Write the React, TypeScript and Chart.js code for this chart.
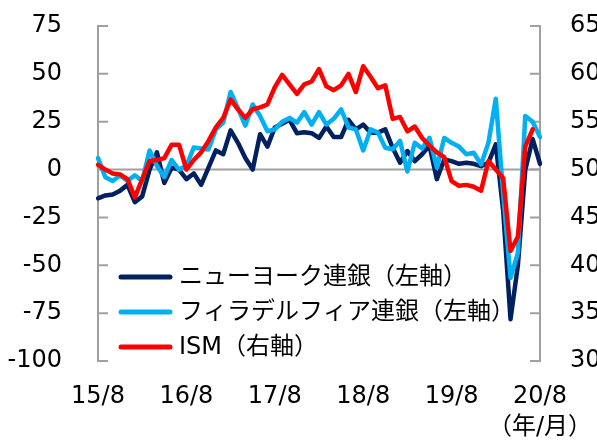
import React, { useEffect, useRef } from "react";
import { Chart, registerables } from "chart.js";

Chart.register(...registerables);

// Monthly, 2015/8 .. 2020/8 (61 months)
const startYear = 2015;
const startMonth = 8;
const monthCount = 61;
const xTickLabels = ["15/8", "16/8", "17/8", "18/8", "19/8", "20/8"];
const xUnitLabel = "（年/月）";

const nyFed = [
  -15, -13.5, -13, -11, -8, -17, -14, 0, 9, -7,
  1, 0, -5, -2, -8, 1, 10, 8, 20.5, 14,
  6, 0, 18.5, 12, 22, 24, 26, 19, 19.5, 19,
  16.5, 22.5, 17, 17, 26, 21, 23.5, 19.3, 19.3, 21,
  11.4, 3.6, 9.7, 4.4, 8, 12.5, -5, 5.3, 4.4, 3,
  3.6, 3, 1.8, 3.6, 13.2, -21.5, -78.2, -50, -0.2, 16,
  3,
];

const phillyFed = [
  6, -4, -6, -3, -6, -3, -6, 10, 2, -4,
  5, 0, 2, 11.5, 11, 10.5, 21, 24.5, 40.5, 32,
  23, 34, 28, 20, 21, 25, 27, 24.5, 30, 23.5,
  30, 23.5, 26.5, 31.5, 22, 21, 10, 21, 19.3, 11.4,
  10.6, 15, -1, 14, 11, 16.6, 1, 16.5, 14, 12,
  8, 8.8, 2.7, 14, 37, -12.7, -56.6, -43.5, 28, 25,
  17,
];

const ism = [
  50.5, 50.0, 49.6, 49.5, 49.0, 47.1, 49.0, 50.9, 51.0, 51.2,
  52.6, 52.6, 50.0, 51.0, 51.8, 53.0, 54.4, 55.4, 57.3, 56.3,
  55.4, 56.3, 56.5, 56.8, 58.6, 59.9, 58.9, 57.9, 58.9, 59.2,
  60.5, 58.7, 58.3, 58.8, 60.0, 58.1, 60.8, 59.7, 58.5, 58.8,
  55.3, 55.5, 54.0, 54.5, 53.3, 52.5, 51.8, 51.3, 48.8, 48.3,
  48.4, 48.2, 47.8, 50.9, 50.0, 49.1, 41.5, 43.0, 52.4, 54.2,
  null,
];

const seriesNames = ["ニューヨーク連銀（左軸）", "フィラデルフィア連銀（左軸）", "ISM（右軸）"];
const seriesColors = ["#002060", "#00B0F0", "#FF0000"];

const leftTicks = { min: -100, max: 75, step: 25 };
const rightTicks = { min: 30, max: 65, step: 5 };

const FONT = "'DejaVu Sans', 'Noto Sans CJK JP', sans-serif";
const FONT_SIZE = 24;
const AXIS_GRAY = "#A0A0A0";

const categories: string[] = Array.from({ length: monthCount }, (_, i) => {
  const t = startMonth - 1 + i;
  const y = (startYear + Math.floor(t / 12)) % 100;
  const m = (t % 12) + 1;
  return `${y}/${m}`;
});

const zeroPad = (s: any) => {
  s.paddingTop = 0;
  s.paddingBottom = 0;
  s.paddingLeft = 0;
  s.paddingRight = 0;
};

const axesPlugin = {
  id: "customAxes",
  beforeDatasetsDraw(chart: any) {
    const { ctx, chartArea, scales } = chart;
    const { left, right, top, bottom } = chartArea;
    ctx.save();
    ctx.strokeStyle = AXIS_GRAY;
    ctx.lineWidth = 2;
    ctx.lineCap = "butt";
    ctx.beginPath();
    ctx.moveTo(left, top);
    ctx.lineTo(left, bottom);
    ctx.moveTo(right, top);
    ctx.lineTo(right, bottom);
    ctx.stroke();
    ctx.beginPath();
    scales.y.ticks.forEach((t: any) => {
      const py = scales.y.getPixelForValue(t.value);
      ctx.moveTo(left - 1, py);
      ctx.lineTo(left + 10, py);
    });
    scales.y2.ticks.forEach((t: any) => {
      const py = scales.y2.getPixelForValue(t.value);
      ctx.moveTo(right + 1, py);
      ctx.lineTo(right - 10, py);
    });
    ctx.stroke();
    const zy = scales.y.getPixelForValue(0);
    ctx.beginPath();
    ctx.moveTo(left, zy);
    ctx.lineTo(right, zy);
    ctx.stroke();
    ctx.restore();
  },
  afterDraw(chart: any) {
    const { ctx } = chart;
    const x0 = 121;
    const x1 = 170;
    const tx = 179;
    const ys = [277, 312, 347];
    ctx.save();
    chart.data.datasets.forEach((ds: any, i: number) => {
      const y = ys[i];
      ctx.strokeStyle = ds.borderColor;
      ctx.lineWidth = 5;
      ctx.lineCap = "round";
      ctx.beginPath();
      ctx.moveTo(x0, y);
      ctx.lineTo(x1, y);
      ctx.stroke();
      ctx.fillStyle = "#000";
      ctx.font = `${FONT_SIZE}px ${FONT}`;
      ctx.textBaseline = "middle";
      ctx.textAlign = "left";
      ctx.fillText(ds.label, tx, y + 1);
    });
    ctx.restore();
  },
};

export default function App() {
  const ref = useRef<HTMLCanvasElement | null>(null);

  useEffect(() => {
    if (!ref.current) return;
    const chart = new Chart(ref.current, {
      type: "line",
      data: {
        labels: categories,
        datasets: [
          { label: seriesNames[0], data: nyFed, borderColor: seriesColors[0], yAxisID: "y", order: 3 },
          { label: seriesNames[1], data: phillyFed, borderColor: seriesColors[1], yAxisID: "y", order: 2 },
          { label: seriesNames[2], data: ism, borderColor: seriesColors[2], yAxisID: "y2", order: 1 },
        ],
      },
      options: {
        responsive: false,
        animation: false,
        devicePixelRatio: 1,
        layout: { padding: { top: 26, left: 0, right: 0, bottom: 0 } },
        elements: {
          point: { radius: 0, hoverRadius: 0 },
          line: {
            borderWidth: 4.5,
            tension: 0,
            borderJoinStyle: "round",
            borderCapStyle: "round",
            fill: false,
          },
        },
        plugins: {
          legend: { display: false },
          tooltip: { enabled: false },
        },
        scales: {
          x: {
            type: "category",
            position: "bottom",
            offset: false,
            grid: { display: false, drawTicks: false },
            border: { display: false },
            ticks: {
              autoSkip: false,
              maxRotation: 0,
              minRotation: 0,
              padding: 20,
              color: "#000",
              font: { family: FONT, size: FONT_SIZE, lineHeight: 1.3 },
              callback: (_v: any, index: number) => {
                if (index % 12 !== 0) return "";
                const k = index / 12;
                if (k === xTickLabels.length - 1) return [xTickLabels[k], xUnitLabel];
                return xTickLabels[k];
              },
            },
            afterFit: (s: any) => {
              s.height = 79;
              zeroPad(s);
            },
          },
          y: {
            position: "left",
            min: leftTicks.min,
            max: leftTicks.max,
            grid: { display: false, drawTicks: false },
            border: { display: false },
            ticks: {
              stepSize: leftTicks.step,
              padding: 36,
              color: "#000",
              font: { family: FONT, size: FONT_SIZE },
            },
            afterFit: (s: any) => {
              s.width = 98;
              zeroPad(s);
            },
          },
          y2: {
            position: "right",
            min: rightTicks.min,
            max: rightTicks.max,
            grid: { display: false, drawTicks: false },
            border: { display: false },
            ticks: {
              stepSize: rightTicks.step,
              padding: 30,
              color: "#000",
              font: { family: FONT, size: FONT_SIZE },
            },
            afterFit: (s: any) => {
              s.width = 57;
              zeroPad(s);
            },
          },
        },
      },
      plugins: [axesPlugin],
    });
    return () => chart.destroy();
  }, []);

  return (
    <div style={{ position: "fixed", left: 0, top: 0, width: 597, height: 440, background: "#fff" }}>
      <canvas ref={ref} width={597} height={440} style={{ display: "block" }} />
    </div>
  );
}
